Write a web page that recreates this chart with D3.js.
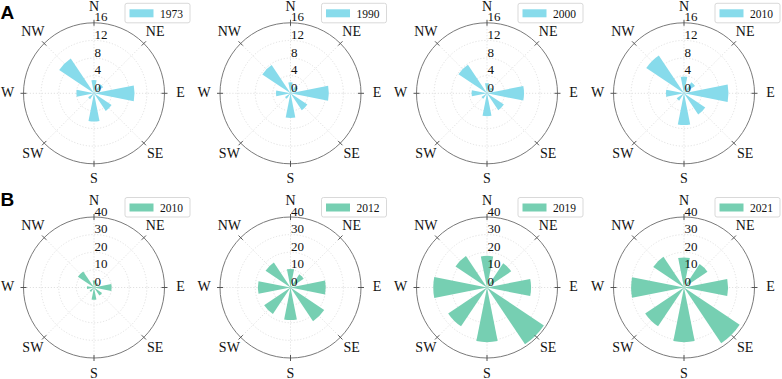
<!DOCTYPE html>
<html>
<head>
<meta charset="utf-8">
<script src="https://cdn.jsdelivr.net/npm/d3@7"></script>
<style>
  html, body { margin: 0; padding: 0; background: #fff; }
  svg { display: block; }
</style>
</head>
<body>
<script>
// ---- data ----
const directions = ["N", "NE", "E", "SE", "S", "SW", "W", "NW"];
const yearsA = ["1973", "1990", "2000", "2010"];
const yearsB = ["2010", "2012", "2019", "2021"];
const ticksA = [0, 4, 8, 12, 16];
const ticksB = [0, 10, 20, 30, 40];
const a1973 = [3.0, 2.5, 9.2, 4.8, 6.4, 1.6, 4.0, 9.5];
const a1990 = [2.5, 2.0, 8.7, 4.6, 5.6, 1.5, 3.3, 7.7];
const a2000 = [2.3, 1.6, 8.4, 4.6, 5.2, 1.5, 3.5, 7.8];
const a2010 = [3.8, 3.0, 10.1, 5.8, 7.2, 2.0, 4.1, 10.3];
const b2010 = [4.0, 3.0, 10.0, 5.5, 7.0, 3.0, 4.0, 11.0];
const b2012 = [10.5, 9.0, 20.0, 23.0, 18.5, 18.0, 18.5, 17.0];
const b2019 = [18.0, 16.5, 25.0, 38.8, 31.0, 26.5, 30.5, 21.5];
const b2021 = [17.0, 16.0, 25.0, 38.0, 31.0, 26.5, 30.0, 21.0];

const seriesA = [a1973, a1990, a2000, a2010];
const seriesB = [b2010, b2012, b2019, b2021];

// ---- layout ----
const W = 782, H = 379;
const svg = d3.select("body").append("svg").attr("width", W).attr("height", H);
const R = 70.5;
const cxs = [94, 290.5, 487, 684];
const rows = [
  { cy: 93.3, years: yearsA, series: seriesA, ticks: ticksA, max: 16, color: "#87dbeb", letter: "A", ly: 18.5 },
  { cy: 287.5, years: yearsB, series: seriesB, ticks: ticksB, max: 40, color: "#76cfb2", letter: "B", ly: 205.5 }
];
const serif = "'Liberation Serif', 'Times New Roman', serif";

const angle = d3.scalePoint().domain(directions).range([0, 2 * Math.PI * 7 / 8]);
const halfW = Math.PI / 16;
const labelR = 86.5;

rows.forEach(row => {
  const r = d3.scaleLinear().domain([0, row.max]).range([0, R]);
  row.years.forEach((yr, i) => {
    const vals = row.series[i];
    const g = svg.append("g").attr("transform", `translate(${cxs[i]},${row.cy})`);
    // grid circles
    g.selectAll("circle.grid").data(row.ticks.slice(1, -1)).enter().append("circle")
      .attr("r", d => r(d)).attr("fill", "none")
      .attr("stroke", "#d9d9d9").attr("stroke-width", 0.8).attr("stroke-dasharray", "1.2,1.8");
    // radial grid lines
    g.selectAll("line.spoke").data(directions).enter().append("line")
      .attr("x1", 0).attr("y1", 0)
      .attr("x2", d => R * Math.sin(angle(d)))
      .attr("y2", d => -R * Math.cos(angle(d)))
      .attr("stroke", "#d9d9d9").attr("stroke-width", 0.8).attr("stroke-dasharray", "1.2,1.8");
    // bars
    const arc = d3.arc().innerRadius(0);
    g.selectAll("path.bar").data(directions.map((d, k) => ({ dir: d, v: vals[k] }))).enter().append("path")
      .attr("d", d => arc({ outerRadius: r(d.v), startAngle: angle(d.dir) - halfW, endAngle: angle(d.dir) + halfW }))
      .attr("fill", row.color);
    // outer circle
    g.append("circle").attr("r", R).attr("fill", "none").attr("stroke", "#7a7a7a").attr("stroke-width", 1);
    // ticks at outer circle
    g.selectAll("line.tick").data(directions).enter().append("line")
      .attr("x1", d => (R - 3) * Math.sin(angle(d)))
      .attr("y1", d => -(R - 3) * Math.cos(angle(d)))
      .attr("x2", d => (R + 3) * Math.sin(angle(d)))
      .attr("y2", d => -(R + 3) * Math.cos(angle(d)))
      .attr("stroke", "#555").attr("stroke-width", 1);
    // radial tick labels
    g.selectAll("text.rt").data(row.ticks).enter().append("text")
      .attr("x", 0.5).attr("y", d => -r(d) - 1.5)
      .attr("font-family", serif).attr("font-size", 13).attr("fill", "#111")
      .text(d => d);
    // direction labels
    g.selectAll("text.dir").data(directions).enter().append("text")
      .attr("x", d => labelR * Math.sin(angle(d)))
      .attr("y", d => -labelR * Math.cos(angle(d)) - (d === "N" ? 0.8 : 1))
      .attr("text-anchor", "middle").attr("dominant-baseline", "central")
      .attr("font-family", serif).attr("font-size", 14).attr("fill", "#111")
      .text(d => d);
    // legend
    const lg = g.append("g").attr("transform", `translate(31,-90)`);
    lg.append("rect").attr("x", 0).attr("y", 0).attr("width", 65).attr("height", 19.5)
      .attr("rx", 2).attr("fill", "#fff").attr("stroke", "#cfcfcf").attr("stroke-width", 0.8);
    lg.append("rect").attr("x", 4.5).attr("y", 6).attr("width", 24).attr("height", 8).attr("fill", row.color);
    lg.append("text").attr("x", 35).attr("y", 14.3)
      .attr("font-family", serif).attr("font-size", 11.5).attr("fill", "#111").text(yr);
  });
  svg.append("text").attr("x", 0.5).attr("y", row.ly)
    .attr("font-family", "'Liberation Sans', Arial, sans-serif").attr("font-weight", "bold")
    .attr("font-size", 19).attr("fill", "#000").text(row.letter);
});
</script>
</body>
</html>
